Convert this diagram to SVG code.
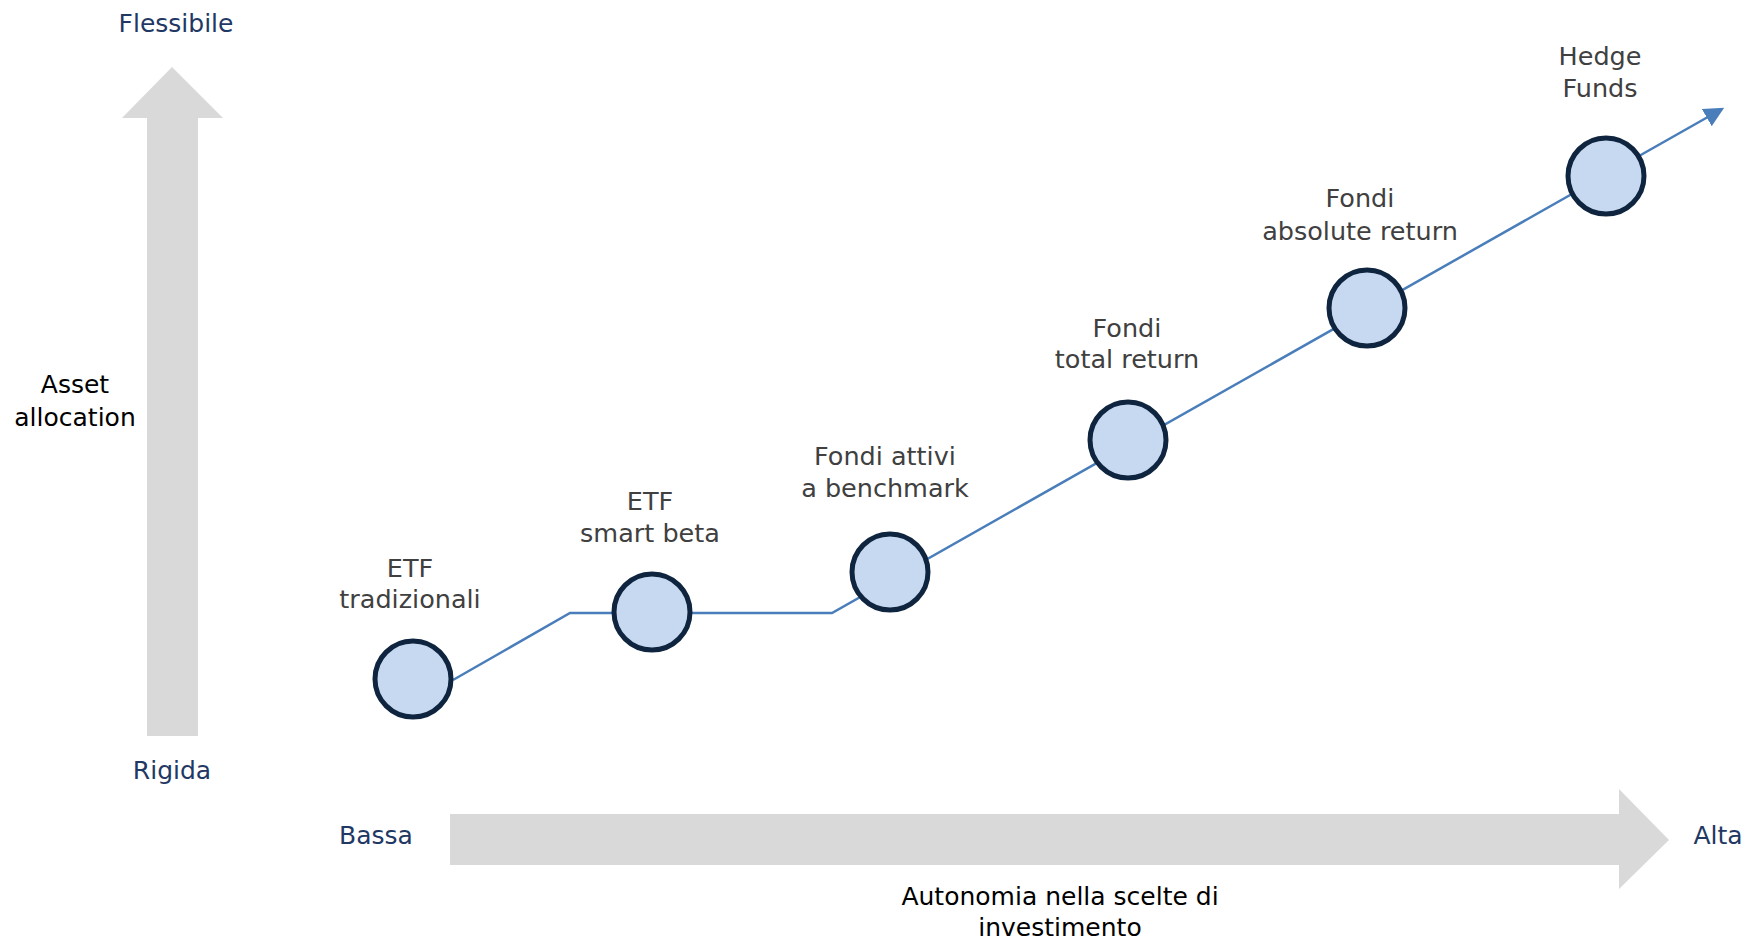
<svg xmlns="http://www.w3.org/2000/svg" width="1748" height="941" viewBox="0 0 1748 941">
<style>
text{font-family:"DejaVu Sans","Noto Sans",sans-serif;font-size:25px;text-anchor:middle}
.lbl{font-size:25.5px;fill:#404040}
.axis{fill:#1f3864}
.blk{fill:#000}
.node circle{fill:#c6d9f0;stroke:#0f243e;stroke-width:5}
.bigarrow{fill:#d9d9d9}
</style>
<defs>
<marker id="ah" markerWidth="10" markerHeight="10" refX="7" refY="4" orient="auto" markerUnits="strokeWidth">
<path d="M0,0 L8,4 L0,8 Z" fill="#4a7ebb"/>
</marker>
</defs>
<g id="axes">
<polygon class="bigarrow" points="147,736 147,118 122,118 172,67 223,118 198,118 198,736"/>
<polygon class="bigarrow" points="450,814 1619,814 1619,789 1669,840 1619,889 1619,865 450,865"/>
<text class="axis" x="176" y="32">Flessibile</text>
<text class="axis" x="172" y="779">Rigida</text>
<text class="axis" x="376" y="844">Bassa</text>
<text class="axis" x="1718" y="844">Alta</text>
<text class="blk" x="75" y="393">Asset</text>
<text class="blk" x="75" y="426">allocation</text>
<text class="blk" x="1060" y="905">Autonomia nella scelte di</text>
<text class="blk" x="1060" y="936">investimento</text>
</g>
<g id="connectors">
<polyline points="453,680 570,613 832,613 1722,109" fill="none" stroke="#4a7ebb" stroke-width="2.5" marker-end="url(#ah)"/>
</g>
<g id="n1" class="node"><circle cx="413" cy="679" r="38"/><text class="lbl" x="410" y="577">ETF</text><text class="lbl" x="410" y="608">tradizionali</text></g>
<g id="n2" class="node"><circle cx="652" cy="612" r="38"/><text class="lbl" x="650" y="510">ETF</text><text class="lbl" x="650" y="542">smart beta</text></g>
<g id="n3" class="node"><circle cx="890" cy="572" r="38"/><text class="lbl" x="885" y="465">Fondi attivi</text><text class="lbl" x="885" y="497">a benchmark</text></g>
<g id="n4" class="node"><circle cx="1128" cy="440" r="38"/><text class="lbl" x="1127" y="337">Fondi</text><text class="lbl" x="1127" y="368">total return</text></g>
<g id="n5" class="node"><circle cx="1367" cy="308" r="38"/><text class="lbl" x="1360" y="207">Fondi</text><text class="lbl" x="1360" y="240">absolute return</text></g>
<g id="n6" class="node"><circle cx="1606" cy="176" r="38"/><text class="lbl" x="1600" y="65">Hedge</text><text class="lbl" x="1600" y="97">Funds</text></g>
</svg>
